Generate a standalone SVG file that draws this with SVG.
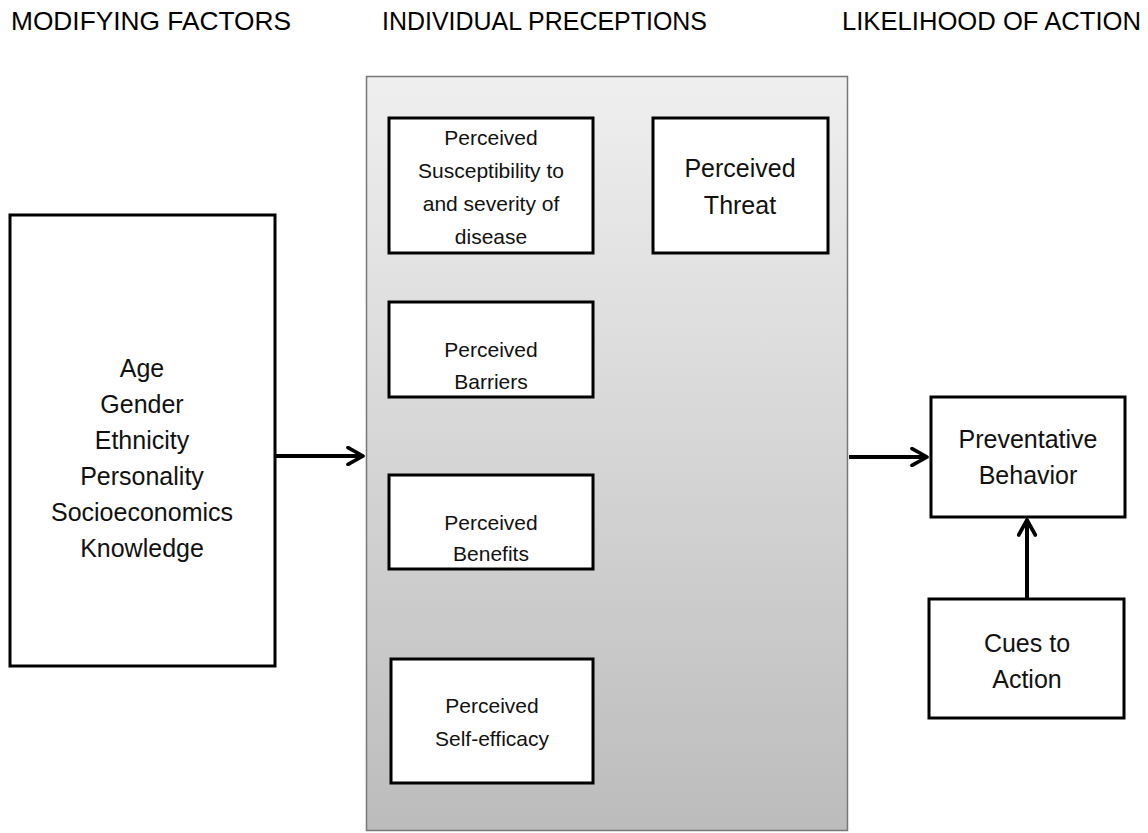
<svg xmlns="http://www.w3.org/2000/svg" width="1148" height="833" viewBox="0 0 1148 833">
<style>
.hdr{font-family:"Liberation Sans",Arial,sans-serif;font-size:25px;fill:#000}
.t{font-family:"Liberation Sans",Arial,sans-serif;fill:#111;text-anchor:middle;dominant-baseline:central}
.box{fill:#fff;stroke:#000;stroke-width:3}
.conn{stroke:#000;stroke-width:4;fill:none}
</style>
<defs>
<linearGradient id="g" x1="0" y1="0" x2="0" y2="1">
<stop offset="0" stop-color="#efefef"/>
<stop offset="1" stop-color="#bcbcbc"/>
</linearGradient>
<marker id="arr" viewBox="0 0 12 12" refX="10" refY="6" markerWidth="5" markerHeight="5" markerUnits="strokeWidth" orient="auto">
<path d="M1,1 L10,6 L1,11" fill="none" stroke="#000" stroke-width="2.2" stroke-linecap="round" stroke-linejoin="round"/>
</marker>
</defs>
<rect width="1148" height="833" fill="#fff"/>
<text class="hdr" x="11" y="30" textLength="280" lengthAdjust="spacingAndGlyphs">MODIFYING FACTORS</text>
<text class="hdr" x="382" y="30" textLength="325" lengthAdjust="spacingAndGlyphs">INDIVIDUAL PRECEPTIONS</text>
<text class="hdr" x="842" y="30" textLength="299" lengthAdjust="spacingAndGlyphs">LIKELIHOOD OF ACTION</text>

<g id="panel">
<rect x="366.5" y="76.5" width="481" height="754" fill="url(#g)" stroke="#777" stroke-width="1.5"/>
</g>

<g id="modifying">
<rect class="box" x="10" y="215" width="265" height="451"/>
<text class="t" font-size="25"><tspan x="142" y="368">Age</tspan><tspan x="142" y="404">Gender</tspan><tspan x="142" y="440">Ethnicity</tspan><tspan x="142" y="476">Personality</tspan><tspan x="142" y="512">Socioeconomics</tspan><tspan x="142" y="548">Knowledge</tspan></text>
</g>

<g id="susceptibility">
<rect class="box" x="389" y="118" width="204" height="135"/>
<text class="t" font-size="21"><tspan x="491" y="137">Perceived</tspan><tspan x="491" y="170">Susceptibility to</tspan><tspan x="491" y="203">and severity of</tspan><tspan x="491" y="236">disease</tspan></text>
</g>

<g id="threat">
<rect class="box" x="653" y="118" width="175" height="135"/>
<text class="t" font-size="25"><tspan x="740" y="168">Perceived</tspan><tspan x="740" y="205">Threat</tspan></text>
</g>

<g id="barriers">
<rect class="box" x="389" y="302" width="204" height="95"/>
<text class="t" font-size="21"><tspan x="491" y="349">Perceived</tspan><tspan x="491" y="381">Barriers</tspan></text>
</g>

<g id="benefits">
<rect class="box" x="389" y="475" width="204" height="94"/>
<text class="t" font-size="21"><tspan x="491" y="522">Perceived</tspan><tspan x="491" y="553">Benefits</tspan></text>
</g>

<g id="selfefficacy">
<rect class="box" x="391" y="659" width="202" height="124"/>
<text class="t" font-size="21"><tspan x="492" y="705">Perceived</tspan><tspan x="492" y="738">Self-efficacy</tspan></text>
</g>

<g id="behavior">
<rect class="box" x="931" y="397" width="194" height="120"/>
<text class="t" font-size="25"><tspan x="1028" y="439">Preventative</tspan><tspan x="1028" y="475">Behavior</tspan></text>
</g>

<g id="cues">
<rect class="box" x="929" y="599" width="195" height="119"/>
<text class="t" font-size="25"><tspan x="1027" y="643">Cues to</tspan><tspan x="1027" y="679">Action</tspan></text>
</g>

<g id="connectors">
<line class="conn" x1="276" y1="456" x2="363" y2="456" marker-end="url(#arr)"/>
<line class="conn" x1="849" y1="457" x2="927" y2="457" marker-end="url(#arr)"/>
<line class="conn" x1="1027" y1="598" x2="1027" y2="520" marker-end="url(#arr)"/>
</g>
</svg>
